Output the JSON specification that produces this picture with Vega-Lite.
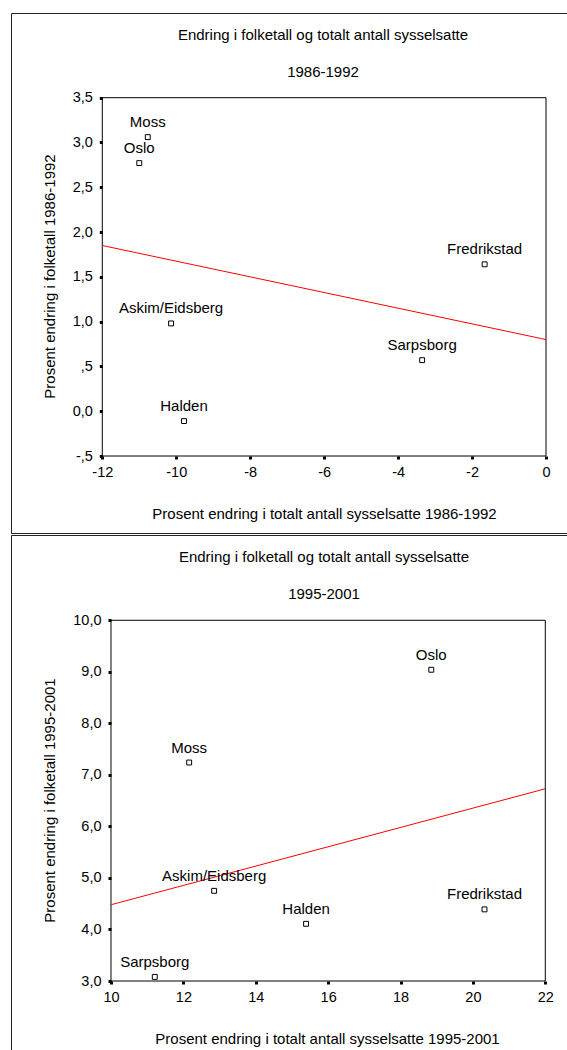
{
  "$schema": "https://vega.github.io/schema/vega-lite/v6.json",
  "padding": {"left": 10, "top": 12, "right": 0, "bottom": 0},
  "background": "white",
  "datasets": {
    "punkter8692": [
      {"kommune": "Moss", "sysselsatte": -10.77, "folketall": 3.06},
      {"kommune": "Oslo", "sysselsatte": -11.0, "folketall": 2.77},
      {"kommune": "Askim/Eidsberg", "sysselsatte": -10.14, "folketall": 0.98},
      {"kommune": "Halden", "sysselsatte": -9.79, "folketall": -0.11},
      {"kommune": "Fredrikstad", "sysselsatte": -1.66, "folketall": 1.64},
      {"kommune": "Sarpsborg", "sysselsatte": -3.35, "folketall": 0.57}
    ],
    "linje8692": [
      {"sysselsatte": -12, "folketall": 1.85},
      {"sysselsatte": 0, "folketall": 0.8}
    ],
    "punkter9501": [
      {"kommune": "Moss", "sysselsatte": 12.16, "folketall": 7.24},
      {"kommune": "Oslo", "sysselsatte": 18.85, "folketall": 9.04},
      {"kommune": "Askim/Eidsberg", "sysselsatte": 12.85, "folketall": 4.75},
      {"kommune": "Halden", "sysselsatte": 15.39, "folketall": 4.11},
      {"kommune": "Fredrikstad", "sysselsatte": 20.32, "folketall": 4.39},
      {"kommune": "Sarpsborg", "sysselsatte": 11.21, "folketall": 3.08}
    ],
    "linje9501": [
      {"sysselsatte": 10, "folketall": 4.48},
      {"sysselsatte": 22, "folketall": 6.73}
    ]
  },
  "vconcat": [
    {
      "width": 558,
      "height": 520,
      "title": {
        "text": "Endring i folketall og totalt antall sysselsatte",
        "subtitle": "1986-1992",
        "offset": -67,
        "dx": 33
      },
      "layer": [
        {
          "data": {"values": [{}]},
          "mark": {"type": "rect", "fill": null, "fillOpacity": 0, "stroke": "#000", "strokeWidth": 1},
          "encoding": {
            "x": {
              "datum": -12, "type": "quantitative",
              "scale": {"domain": [-14.469, 0.622], "nice": false, "zero": false},
              "axis": {
                "orient": "bottom", "offset": -77, "labelPadding": 6,
                "values": [-12, -10, -8, -6, -4, -2, 0],
                "labelExpr": "datum.value < 0 ? '-' + abs(datum.value) : '' + datum.value",
                "title": "Prosent endring i totalt antall sysselsatte 1986-1992",
                "titleX": 313, "titleY": 57, "titleBaseline": "middle", "titleAlign": "center"
              }
            },
            "x2": {"datum": 0},
            "y": {
              "datum": -0.5, "type": "quantitative",
              "scale": {"domain": [-1.3596, 4.4456], "nice": false, "zero": false},
              "axis": {
                "orient": "left", "offset": -91.3, "labelPadding": 7,
                "values": [-0.5, 0, 0.5, 1, 1.5, 2, 2.5, 3, 3.5],
                "labelExpr": "(datum.value < 0 ? '-' : '') + (abs(datum.value) < 1 && datum.value != 0 ? '' : floor(abs(datum.value))) + ',' + (round(abs(datum.value) * 10) % 10)",
                "title": "Prosent endring i folketall 1986-1992",
                "titleX": -53, "titleY": 263, "titleAngle": -90, "titleBaseline": "middle", "titleAlign": "center"
              }
            },
            "y2": {"datum": 3.5}
          }
        },
        {
          "data": {"name": "linje8692"},
          "mark": {"type": "line", "color": "#ff0000", "strokeWidth": 1},
          "encoding": {
            "x": {"field": "sysselsatte", "type": "quantitative"},
            "y": {"field": "folketall", "type": "quantitative"}
          }
        },
        {
          "data": {"name": "punkter8692"},
          "mark": {"type": "point", "shape": "square", "filled": false, "stroke": "#000", "strokeWidth": 1, "size": 24, "opacity": 1},
          "encoding": {
            "x": {"field": "sysselsatte", "type": "quantitative"},
            "y": {"field": "folketall", "type": "quantitative"}
          }
        },
        {
          "data": {"name": "punkter8692"},
          "mark": {"type": "text", "dy": -10, "baseline": "alphabetic", "align": "center", "fontSize": 15, "color": "#000"},
          "encoding": {
            "x": {"field": "sysselsatte", "type": "quantitative"},
            "y": {"field": "folketall", "type": "quantitative"},
            "text": {"field": "kommune"}
          }
        }
      ]
    },
    {
      "width": 558,
      "height": 518,
      "title": {
        "text": "Endring i folketall og totalt antall sysselsatte",
        "subtitle": "1995-2001",
        "offset": -67,
        "dx": 34
      },
      "layer": [
        {
          "data": {"values": [{}]},
          "mark": {"type": "rect", "fill": null, "fillOpacity": 0, "stroke": "#000", "strokeWidth": 1},
          "encoding": {
            "x": {
              "datum": 10, "type": "quantitative",
              "scale": {"domain": [7.237, 22.655], "nice": false, "zero": false},
              "axis": {
                "orient": "bottom", "offset": -72, "labelPadding": 6,
                "values": [10, 12, 14, 16, 18, 20, 22],
                "labelExpr": "'' + datum.value",
                "title": "Prosent endring i totalt antall sysselsatte 1995-2001",
                "titleX": 316, "titleY": 57, "titleBaseline": "middle", "titleAlign": "center"
              }
            },
            "x2": {"datum": 22},
            "y": {
              "datum": 3, "type": "quantitative",
              "scale": {"domain": [1.603, 11.655], "nice": false, "zero": false},
              "axis": {
                "orient": "left", "offset": -100, "labelPadding": 7,
                "values": [3, 4, 5, 6, 7, 8, 9, 10],
                "labelExpr": "floor(datum.value) + ',' + (round(datum.value * 10) % 10)",
                "title": "Prosent endring i folketall 1995-2001",
                "titleX": -62, "titleY": 265, "titleAngle": -90, "titleBaseline": "middle", "titleAlign": "center"
              }
            },
            "y2": {"datum": 10}
          }
        },
        {
          "data": {"name": "linje9501"},
          "mark": {"type": "line", "color": "#ff0000", "strokeWidth": 1},
          "encoding": {
            "x": {"field": "sysselsatte", "type": "quantitative"},
            "y": {"field": "folketall", "type": "quantitative"}
          }
        },
        {
          "data": {"name": "punkter9501"},
          "mark": {"type": "point", "shape": "square", "filled": false, "stroke": "#000", "strokeWidth": 1, "size": 24, "opacity": 1},
          "encoding": {
            "x": {"field": "sysselsatte", "type": "quantitative"},
            "y": {"field": "folketall", "type": "quantitative"}
          }
        },
        {
          "data": {"name": "punkter9501"},
          "mark": {"type": "text", "dy": -10, "baseline": "alphabetic", "align": "center", "fontSize": 15, "color": "#000"},
          "encoding": {
            "x": {"field": "sysselsatte", "type": "quantitative"},
            "y": {"field": "folketall", "type": "quantitative"},
            "text": {"field": "kommune"}
          }
        }
      ]
    }
  ],
  "spacing": 2,
  "bounds": "flush",
  "config": {
    "font": "Liberation Sans",
    "view": {"stroke": "#222222", "strokeWidth": 1},
    "axis": {
      "domain": false,
      "grid": false,
      "ticks": true,
      "tickColor": "#000000",
      "tickSize": 3,
      "tickWidth": 3,
      "labelColor": "#000000",
      "labelFont": "Liberation Sans",
      "labelFontSize": 14.5,
      "labelPadding": 5,
      "titleColor": "#000000",
      "titleFont": "Liberation Sans",
      "titleFontSize": 15,
      "titleFontWeight": "normal"
    },
    "title": {
      "anchor": "middle",
      "frame": "group",
      "font": "Liberation Sans",
      "fontSize": 15,
      "fontWeight": "normal",
      "color": "#000000",
      "subtitleFont": "Liberation Sans",
      "subtitleFontSize": 15,
      "subtitleColor": "#000000",
      "subtitlePadding": 22
    }
  }
}
